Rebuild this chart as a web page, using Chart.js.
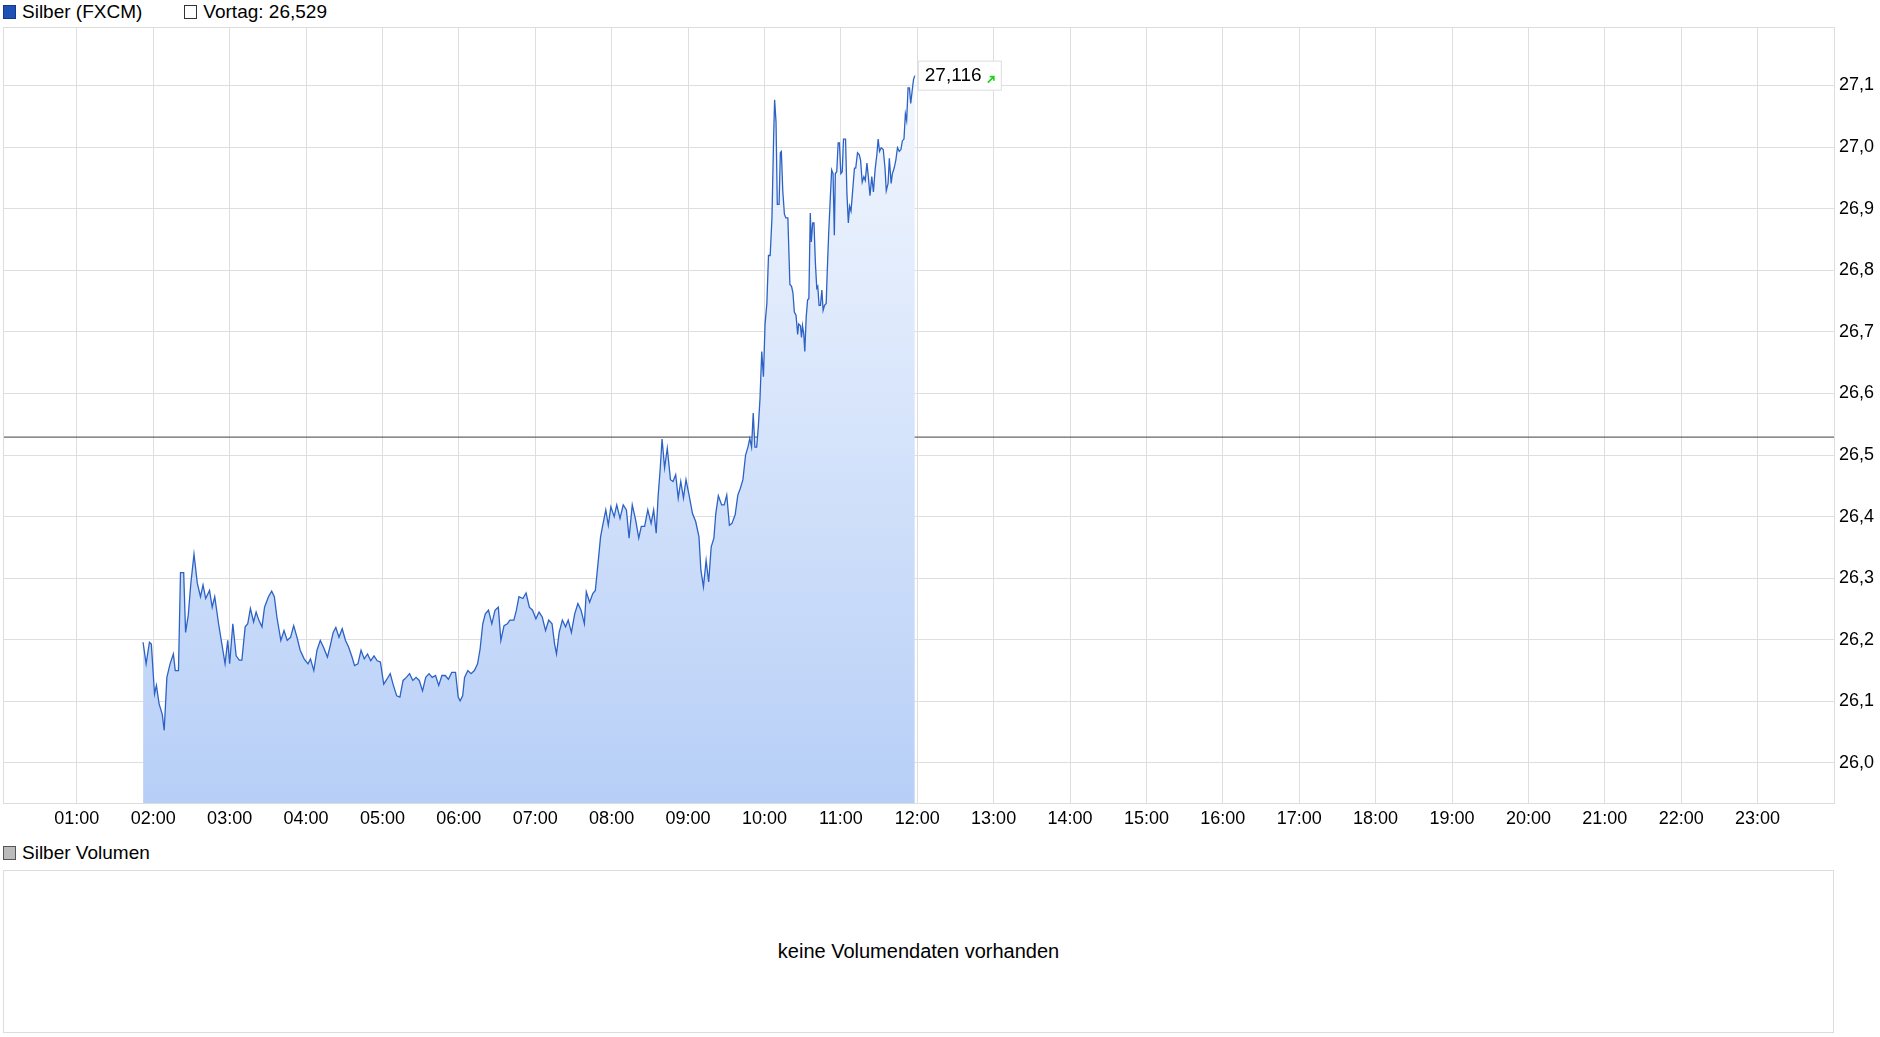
<!DOCTYPE html>
<html><head><meta charset="utf-8">
<script src="https://cdn.jsdelivr.net/npm/chart.js@4"></script>
<style>
body{margin:0;background:#fff;font-family:"Liberation Sans",Arial,sans-serif;}
#wrap{position:absolute;left:0;top:0;width:1880px;height:840px;}
.leg{position:absolute;font-size:19px;color:#000;display:flex;align-items:center;}
.sq{display:inline-block;width:13px;height:14px;border:1px solid #333;margin-right:6px;box-sizing:border-box;}
#vol{position:absolute;left:3px;top:870px;width:1831px;height:163px;border:1px solid #ddd;box-sizing:border-box;display:flex;align-items:center;justify-content:center;font-size:20px;}
</style></head><body>
<div class="leg" style="left:3px;top:0px;height:24px"><span class="sq" style="background:#1f52b4;border-color:#123a8a"></span>Silber (FXCM)<span class="sq" style="margin-left:42px;background:#fff"></span>Vortag: 26,529</div>
<div id="wrap"><canvas id="c" width="1880" height="840"></canvas></div>
<div class="leg" style="left:3px;top:841px;height:24px"><span class="sq" style="background:#bbb;border-color:#555"></span>Silber Volumen</div>
<div id="vol">keine Volumendaten vorhanden</div>
<script>
const minutes=[112,114.4,117,118.5,121,122.5,124.6,127.1,128.6,130.7,133.2,135.8,137.3,139.8,141.4,143.9,145.4,147.5,149.5,152,154.6,157.1,159.1,161.2,164.2,166.3,168.3,171.3,173.9,176.4,178.5,180,182.5,185.1,187.6,189.6,192.2,194.2,196.3,198.8,200.8,202.9,205.4,207.4,210.5,213,215.1,217.1,220.2,222.7,225.2,227.8,230.3,232.9,235.4,238.5,241.5,243.5,246.1,248.6,251.2,253.7,256.8,259.3,261.3,263.4,265.9,268.4,271,273.5,276.1,278.1,280.7,283.2,285.7,288.3,290.8,293.4,295.9,298.4,301,303.5,306.1,308.6,311.2,313.7,316.2,318.8,321.3,323.9,326.4,328.9,331.5,334,336.6,339.1,341.7,344.2,346.7,349.3,351.8,354.4,357.4,359.5,361,363,364.5,367.1,369.6,372.2,374.7,376.7,378.8,380.8,383.3,385.9,388.4,391,393,395.5,398.1,400.1,403.2,405.2,407.2,410.3,412.8,415.4,417.9,420.5,423,425.5,428.1,430.6,433.2,435.2,436.7,438.8,441.3,443.8,445.9,448.4,451,453.5,456,458.6,460.1,462.7,465.2,467.2,469.3,471.3,473.3,475.4,477.4,479.4,482,484,486.6,489.1,491.6,493.7,496.2,498.8,501.3,503.3,505.9,508.4,511,513,515,516.5,518.1,519.6,521.6,523.7,526.2,528.2,530.3,532.3,534.3,536.4,538.4,541,543.5,546,548.6,550.1,552.1,554.2,556.2,558.2,560.3,561.8,563.8,566.4,568.4,570.4,572.5,574.5,577,579.1,581.1,583.1,585.2,587.2,
588.5,589.9,591.2,592.5,593.9,595.2,596.5,597.9,599.2,600.5,601.9,603.2,604.5,605.9,607.2,608,609.1,610.1,611.5,612.5,613.3,614.4,615.7,616.8,618.4,620,621.3,622.4,623.5,624.8,626.1,626.9,628.3,629.1,629.9,630.9,631.7,632.8,633.9,634.9,636,636.8,637.9,638.9,640,641.1,641.9,642.9,644,645.1,646.1,647.2,648.5,649.3,650.4,651.5,652.8,653.9,654.9,655.7,656.8,657.9,658.9,660,661.1,662.1,663.7,664.8,665.9,666.9,668,669.1,670.7,671.7,673.1,674.4,675.5,676.8,678.1,679.2,680.5,681.6,682.9,684.3,685.6,686.9,688.3,689.3,690.4,691.7,693.3,694.7,695.7,697.1,698.1,699.5,700.5,701.9,703.2,704.5,705.9,707.2,708.3,709.6,710.7,711.7,712.8,713.9,714.9,716,717.1,718.1];
const prices=[26.196,26.161,26.196,26.193,26.112,26.126,26.096,26.079,26.053,26.139,26.161,26.177,26.150,26.150,26.309,26.309,26.212,26.240,26.291,26.339,26.292,26.270,26.289,26.267,26.280,26.253,26.270,26.226,26.193,26.161,26.199,26.161,26.226,26.174,26.167,26.167,26.221,26.226,26.251,26.229,26.245,26.232,26.221,26.253,26.270,26.279,26.270,26.237,26.199,26.215,26.199,26.204,26.223,26.204,26.183,26.169,26.161,26.169,26.150,26.183,26.199,26.188,26.172,26.193,26.212,26.220,26.204,26.218,26.199,26.188,26.172,26.158,26.161,26.183,26.169,26.177,26.166,26.174,26.166,26.164,26.128,26.136,26.145,26.126,26.109,26.107,26.134,26.139,26.145,26.134,26.139,26.134,26.117,26.139,26.145,26.139,26.142,26.126,26.142,26.142,26.136,26.147,26.147,26.107,26.101,26.109,26.139,26.150,26.145,26.150,26.161,26.185,26.226,26.242,26.248,26.226,26.248,26.253,26.199,26.223,26.226,26.232,26.232,26.248,26.270,26.267,26.276,26.253,26.248,26.234,26.245,26.237,26.215,26.232,26.226,26.193,26.177,26.212,26.232,26.221,26.232,26.212,26.242,26.259,26.248,26.226,26.278,26.261,26.275,26.280,26.324,26.367,26.389,26.411,26.386,26.416,26.400,26.419,26.397,26.419,26.411,26.365,26.419,26.395,26.365,26.384,26.384,26.411,26.389,26.411,26.373,26.433,26.476,26.526,26.479,26.511,26.460,26.457,26.468,26.430,26.457,26.430,26.460,26.433,26.405,26.392,26.367,26.313,26.286,26.329,26.294,26.351,26.365,26.405,26.434,26.419,26.419,26.435,26.386,26.389,26.403,26.435,26.446,26.460,26.500,26.514,
26.527,26.513,26.568,26.513,26.513,26.546,26.591,26.668,26.627,26.713,26.746,26.824,26.824,26.885,27.013,27.077,27.041,26.907,26.907,26.991,26.993,26.929,26.891,26.885,26.885,26.777,26.774,26.763,26.732,26.727,26.696,26.713,26.710,26.691,26.710,26.696,26.668,26.724,26.752,26.754,26.893,26.846,26.877,26.877,26.813,26.771,26.774,26.743,26.743,26.768,26.735,26.743,26.746,26.796,26.857,26.907,26.963,26.957,26.857,26.957,26.960,27.007,27.007,26.957,26.960,27.013,27.013,26.924,26.877,26.904,26.896,26.924,26.966,26.966,26.991,26.988,26.979,26.943,26.952,26.946,26.974,26.952,26.921,26.952,26.927,26.963,26.988,27.013,26.993,26.999,26.996,26.966,26.929,26.941,26.982,26.941,26.957,26.966,26.979,26.999,26.993,26.996,27.010,27.013,27.054,27.043,27.096,27.096,27.071,27.091,27.110,27.116];
const vortag=26.529;
const lastLabel="27,116";
const yTicks=[26.0,26.1,26.2,26.3,26.4,26.5,26.6,26.7,26.8,26.9,27.0,27.1];
const xTickMinutes=[60,120,180,240,300,360,420,480,540,600,660,720,780,840,900,960,1020,1080,1140,1200,1260,1320,1380,1440];

const pts=minutes.map((m,i)=>({x:m,y:prices[i]}));
const fmtT=m=>String(Math.floor(m/60)).padStart(2,'0')+':00';
const ctx=document.getElementById('c').getContext('2d');
const labelPlugin={id:'lbl',afterDatasetsDraw(ch){
  const c=ch.ctx,xs=ch.scales.x,ys=ch.scales.y;
  const px=xs.getPixelForValue(minutes[minutes.length-1]),py=ys.getPixelForValue(prices[prices.length-1]);
  c.save();
  c.fillStyle='#fff';c.strokeStyle='#ddd';c.lineWidth=1;
  c.fillRect(px+3.5,py-14.5,83,29);c.strokeRect(px+3.5,py-14.5,83,29);
  c.fillStyle='#000';c.font='19px "Liberation Sans"';c.textBaseline='middle';
  c.fillText(lastLabel,px+10,py+0.5);
  c.strokeStyle='#19d219';c.lineWidth=1.6;c.beginPath();
  c.moveTo(px+73,py+7);c.lineTo(px+79,py+1);c.stroke();
  c.beginPath();c.moveTo(px+75,py+1);c.lineTo(px+79,py+1);c.lineTo(px+79,py+5);c.stroke();
  c.restore();
}};
new Chart(ctx,{
  type:'line',
  data:{datasets:[
    {data:pts,borderColor:'#2c62c6',borderWidth:1.3,pointRadius:0,tension:0,fill:'start',
     backgroundColor:(c)=>{const a=c.chart.chartArea;if(!a)return '#cfdff8';
       const y0=c.chart.scales.y.getPixelForValue(27.12);
       const g=c.chart.ctx.createLinearGradient(0,y0,0,a.bottom);
       g.addColorStop(0,'#f3f7fe');g.addColorStop(1,'#b7cff7');return g;}},
    {data:[{x:2,y:vortag},{x:1440,y:vortag}],borderColor:'#666',borderWidth:1.2,pointRadius:0,fill:false}
  ]},
  options:{
    responsive:false,animation:false,
    layout:{padding:{top:27,left:3,right:0,bottom:0}},
    plugins:{legend:{display:false},tooltip:{enabled:false}},
    scales:{
      x:{type:'linear',min:2,max:1440,
        afterBuildTicks:s=>{s.ticks=xTickMinutes.map(v=>({value:v}));},
        afterFit:s=>{s.height=37;},
        grid:{color:'#dedede',drawTicks:false},border:{color:'#ddd'},
        ticks:{color:'#000',font:{size:18,family:'Liberation Sans'},padding:5,maxRotation:0,autoSkip:false,
          callback:v=>v<1440?fmtT(v):''}},
      y:{position:'right',min:25.935,max:27.195,
        afterBuildTicks:s=>{s.ticks=yTicks.map(v=>({value:v}));},
        afterFit:s=>{s.width=46;},
        grid:{color:'#dedede',drawTicks:false},border:{color:'#ddd'},
        ticks:{color:'#000',font:{size:18,family:'Liberation Sans'},padding:5,
          callback:v=>v.toFixed(1).replace('.',',')}}
    }
  },
  plugins:[labelPlugin,{id:'box',afterDraw(ch){const a=ch.chartArea,c=ch.ctx;c.save();c.strokeStyle='#ddd';c.strokeRect(a.left+.5,a.top+.5,a.width,a.height);c.restore();}}]
});
</script></body></html>
